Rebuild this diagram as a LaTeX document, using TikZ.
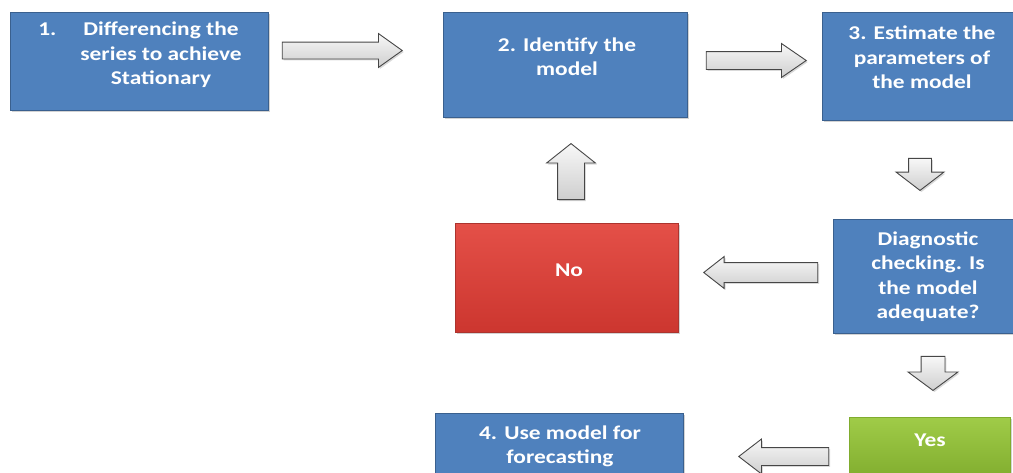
\documentclass[tikz,border=0pt]{standalone}
\usepackage{fontspec}
\setmainfont{Carlito}[FakeStretch=1.2]
\usetikzlibrary{shadows,shapes.arrows}
\definecolor{boxblue}{RGB}{79,129,189}
\definecolor{boxline}{RGB}{58,96,142}
\definecolor{redtop}{RGB}{228,80,72}
\definecolor{redbot}{RGB}{204,54,47}
\definecolor{redline}{RGB}{172,52,46}
\definecolor{greentop}{RGB}{160,204,72}
\definecolor{greenbot}{RGB}{128,172,46}
\definecolor{arrline}{RGB}{70,70,70}
\begin{document}
\begin{tikzpicture}[x=1pt,y=-1pt,
  box/.style={rectangle, inner sep=0pt, line width=0.8pt,
    drop shadow={shadow xshift=2pt, shadow yshift=-2pt, opacity=0.35}},
  bluebox/.style={box, draw=boxline, fill=boxblue},
  redbox/.style={box, draw=redline, top color=redtop, bottom color=redbot},
  greenbox/.style={box, draw=greenbot, top color=greentop, bottom color=greenbot},
  lbl/.style={text=white, font=\bfseries\fontsize{19.5}{24.5}\selectfont, align=center, inner sep=0pt},
  blockarrow/.style={single arrow, draw=arrline, line width=0.9pt, anchor=tip,
    top color=gray!6, bottom color=gray!38, inner xsep=0pt,
    drop shadow={shadow xshift=1.5pt, shadow yshift=-1.5pt, opacity=0.3}}]
\useasboundingbox (0,0) rectangle (1013,472);
\clip (0,0) rectangle (1013,472);

% boxes
\node[bluebox, minimum width=258pt, minimum height=98pt] (b1) at (139,61) {};
\node[bluebox, minimum width=244pt, minimum height=105pt] (b2) at (565,64.5) {};
\node[bluebox, minimum width=200pt, minimum height=108pt] (b3) at (922,66) {};
\node[bluebox, minimum width=190pt, minimum height=114pt] (b4) at (928,276) {};
\node[redbox, minimum width=223pt, minimum height=109pt] (no) at (566.5,277.5) {};
\node[bluebox, minimum width=248pt, minimum height=67pt] (b5) at (559,446.5) {};
\node[greenbox, minimum width=161pt, minimum height=63pt] (yes) at (929.5,448.5) {};

% labels
\node[lbl] (t1) at (161,55) {\llap{1.\hspace{27pt}}Differencing the\\series to achieve\\Stationary};
\node[lbl] (t2) at (567,56.5) {2. Identify the\\model};
\node[lbl] (t3) at (922,57.5) {3. Estimate the\\parameters of\\the model};
\node[lbl] (t4) at (928,276.5) {Diagnostic\\checking. Is\\the model\\adequate?};
\node[lbl] (t5) at (569,270) {No};
\node[lbl] (t6) at (560,446.5) {4. Use model for\\forecasting};
\node[lbl] (t7) at (930,440) {Yes};

% block arrows (placed by their tips)
\node[blockarrow, minimum height=120pt, inner ysep=8pt,
  single arrow head extend=8.5pt, single arrow tip angle=71] (a1) at (403,50.5) {};
\node[blockarrow, minimum height=100pt, inner ysep=8.5pt,
  single arrow head extend=8pt, single arrow tip angle=69] (a2) at (807,60.5) {};
\node[blockarrow, rotate=-90, minimum height=32pt, inner ysep=11pt,
  single arrow head extend=12.5pt, single arrow tip angle=105] (a3) at (920,191) {};
\node[blockarrow, rotate=180, minimum height=114pt, inner ysep=9.5pt,
  single arrow head extend=6pt, single arrow tip angle=76] (a4) at (703,272.5) {};
\node[blockarrow, rotate=90, minimum height=56pt, inner ysep=13pt,
  single arrow head extend=11pt, single arrow tip angle=103] (a5) at (571,143) {};
\node[blockarrow, rotate=-90, minimum height=34pt, inner ysep=11.5pt,
  single arrow head extend=13pt, single arrow tip angle=107] (a6) at (933,391) {};
\node[blockarrow, rotate=180, minimum height=90pt, inner ysep=8.5pt,
  single arrow head extend=8.5pt, single arrow tip angle=75] (a7) at (738,456.5) {};
\end{tikzpicture}
\end{document}
